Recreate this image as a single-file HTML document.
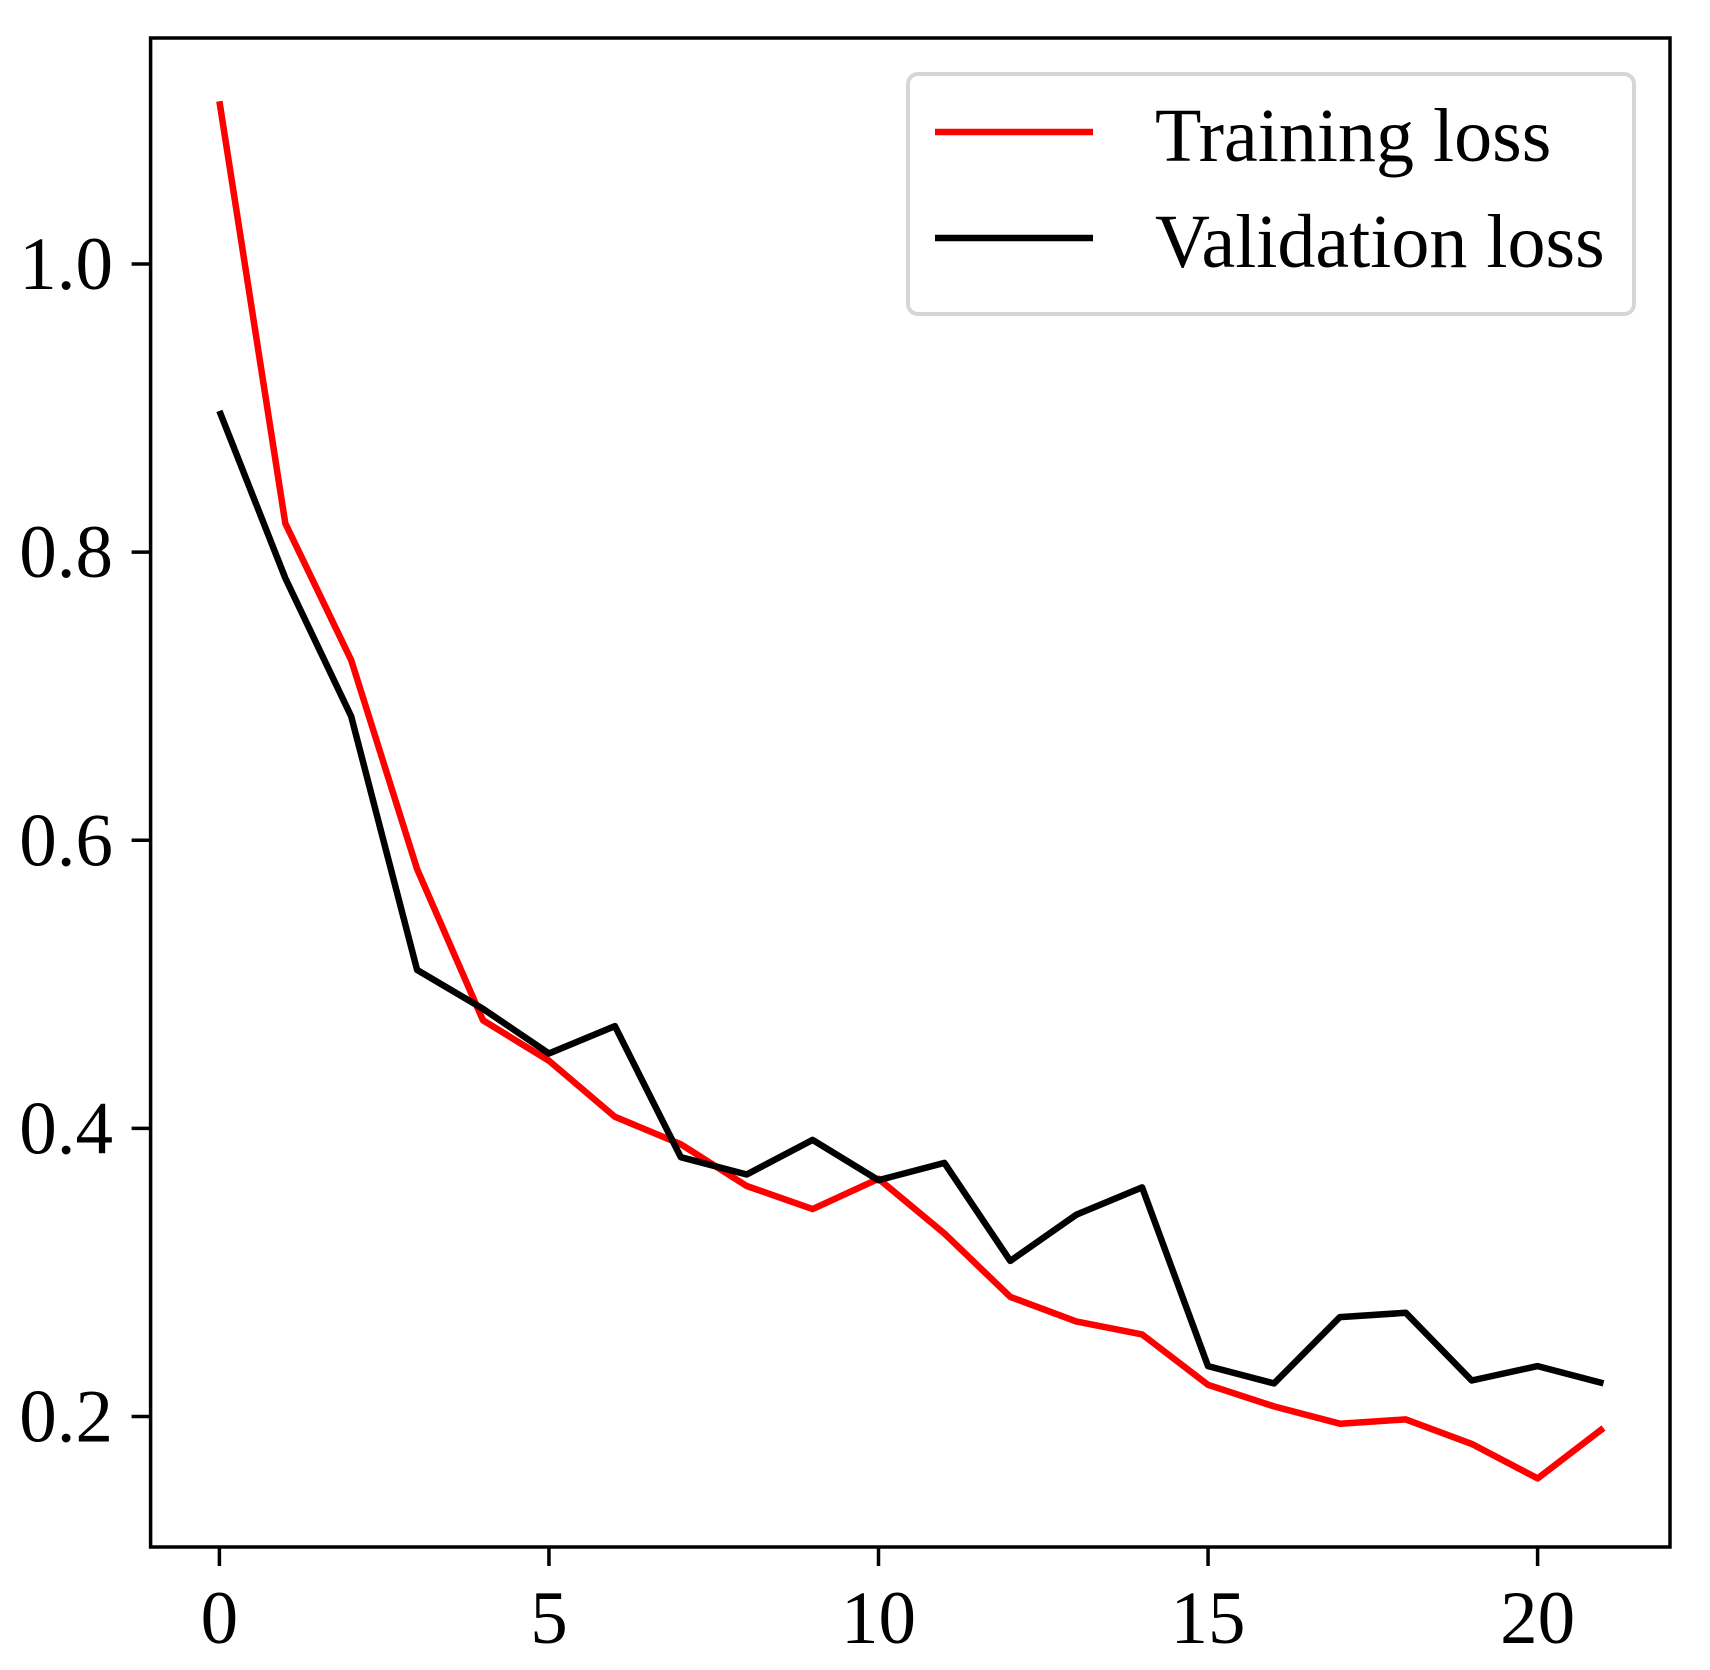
<!DOCTYPE html>
<html><head><meta charset="utf-8"><style>
body{margin:0;background:#fff}
svg text{font-family:"Liberation Serif",serif;fill:#000}
</style></head><body>
<svg width="1710" height="1665" viewBox="0 0 1710 1665" xmlns="http://www.w3.org/2000/svg">
<g id="plot"></g>
</svg>
<script>
const epochs=[0,1,2,3,4,5,6,7,8,9,10,11,12,13,14,15,16,17,18,19,20,21];
const trainLoss=[1.113,0.820,0.725,0.580,0.475,0.447,0.408,0.389,0.360,0.344,0.365,0.327,0.283,0.266,0.257,0.222,0.207,0.195,0.198,0.181,0.157,0.192];
const valLoss=[0.898,0.782,0.686,0.510,0.483,0.452,0.471,0.380,0.368,0.392,0.364,0.376,0.308,0.340,0.359,0.235,0.223,0.269,0.272,0.225,0.235,0.223];
const xTicks=[0,5,10,15,20];
const yTicks=[0.2,0.4,0.6,0.8,1.0];
const yTickLabels=["0.2","0.4","0.6","0.8","1.0"];
const legendLabels=["Training loss","Validation loss"];

const NS="http://www.w3.org/2000/svg";
const g=document.getElementById('plot');
const L=150.6,R=1670,T=38,B=1547;
function xs(v){return 219.4+(v-0)*(1537.6-219.4)/20;}
function ys(v){return 264+(1.0-v)*(1416.5-264)/0.8;}
function mk(tag,attrs){const e=document.createElementNS(NS,tag);for(const k in attrs)e.setAttribute(k,attrs[k]);g.appendChild(e);return e;}

const frame=mk('rect',{x:L,y:T,width:R-L,height:B-T,fill:'none',stroke:'#000','stroke-width':3.5});



xTicks.forEach(t=>{
  const ln=mk('line',{x1:xs(t),x2:xs(t),y1:B,y2:B+19,stroke:'#000','stroke-width':3.5});
  
  
  const tx=mk('text',{x:xs(t),y:1643,'text-anchor':'middle','font-size':75});
  tx.textContent=String(t);
  
  
});
yTicks.forEach((t,i)=>{
  const ln=mk('line',{x1:L-19,x2:L,y1:ys(t),y2:ys(t),stroke:'#000','stroke-width':3.5});
  
  
  const tx=mk('text',{x:113,y:ys(t)+25,'text-anchor':'end','font-size':75});
  tx.textContent=yTickLabels[i];
  
  
});

function line(data,color,name){
  const pts=epochs.map((e,i)=>xs(e).toFixed(1)+','+ys(data[i]).toFixed(1)).join(' ');
  const p=mk('polyline',{points:pts,fill:'none',stroke:color,'stroke-width':6.5,'stroke-linejoin':'round'});
  
  
}
line(trainLoss,'#ff0000','training-loss-line');
line(valLoss,'#000000','validation-loss-line');

const lg=mk('rect',{x:908,y:74,width:726,height:240,rx:10,fill:'#fff','fill-opacity':0.8,stroke:'#d6d6d6','stroke-width':4});


[['#ff0000',132,161],['#000000',238,267]].forEach((c,i)=>{
  const ln=mk('line',{x1:935,x2:1093,y1:c[1],y2:c[1],stroke:c[0],'stroke-width':6.5});
  
  
  const tx=mk('text',{x:1155,y:c[2],'font-size':76});
  tx.textContent=legendLabels[i];
  
  
});
</script>
</body></html>
